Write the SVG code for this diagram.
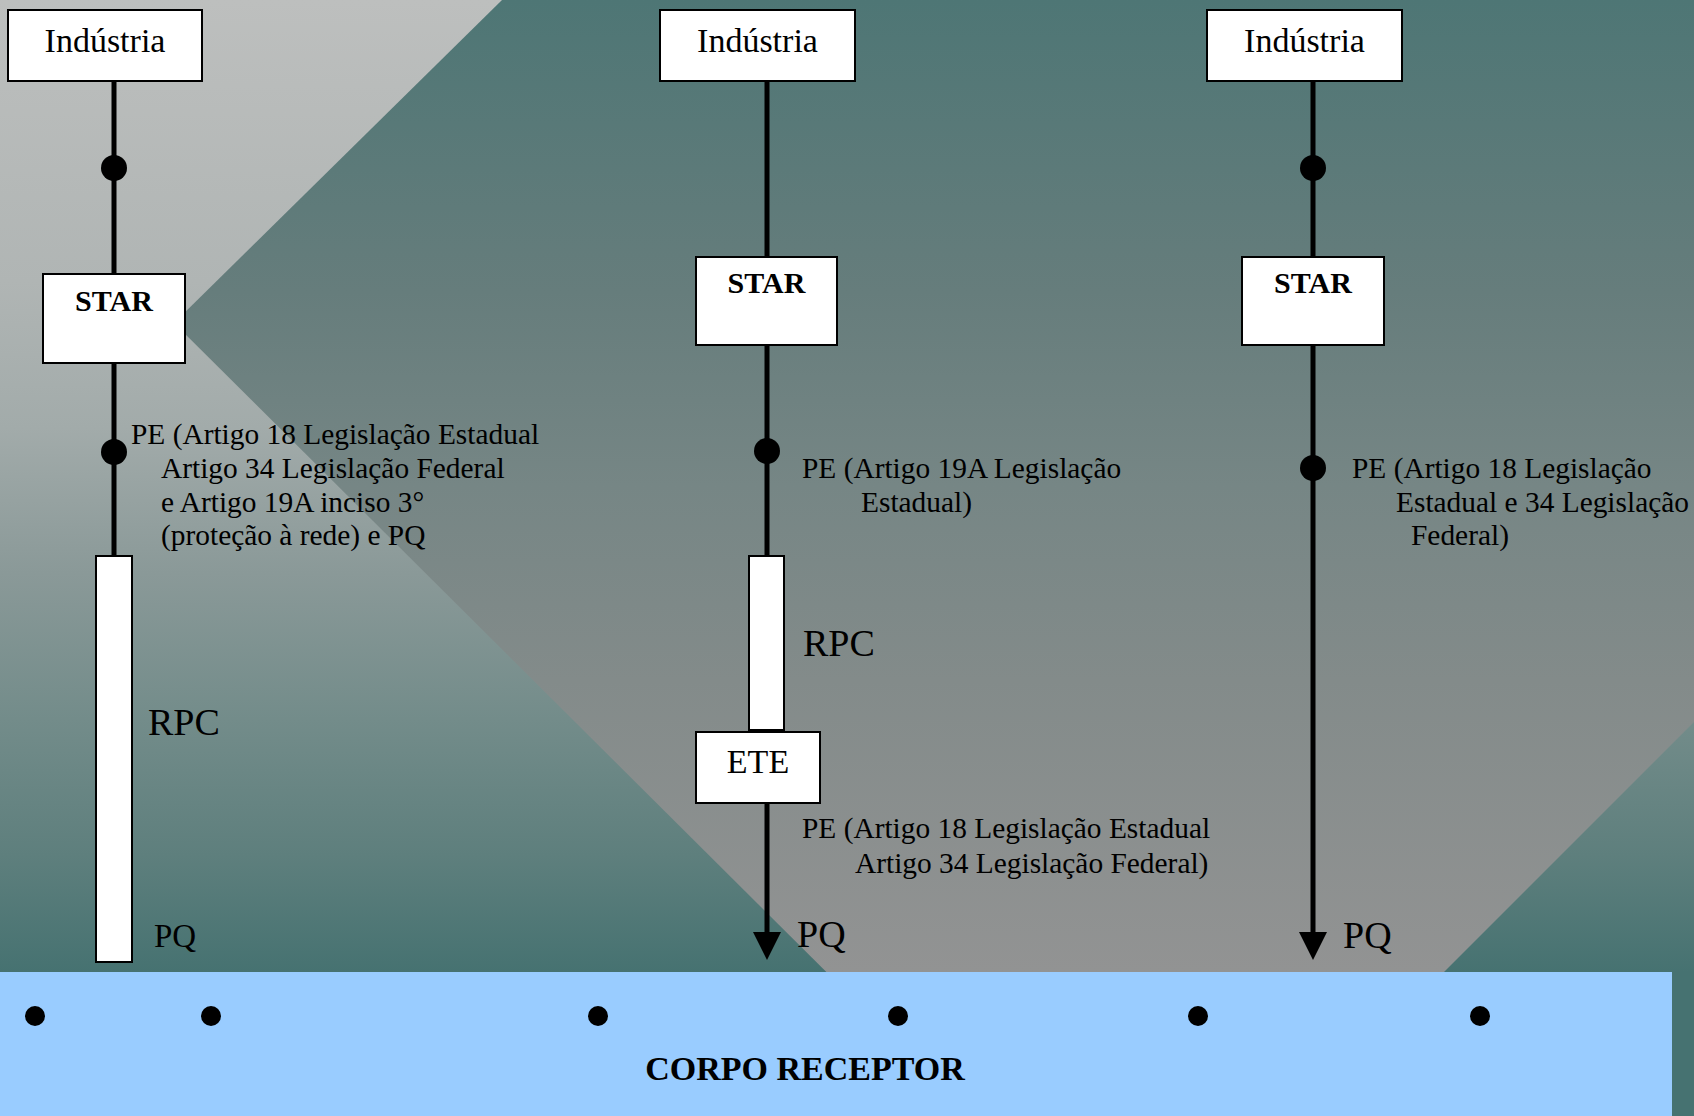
<svg xmlns="http://www.w3.org/2000/svg" width="1694" height="1116" viewBox="0 0 1694 1116">
  <defs>
    <linearGradient id="bgOuter" gradientUnits="userSpaceOnUse" x1="0" y1="0" x2="0" y2="972">
      <stop offset="0" stop-color="#bdbfbe"/>
      <stop offset="0.29" stop-color="#b0b5b4"/>
      <stop offset="0.44" stop-color="#a2abaa"/>
      <stop offset="0.59" stop-color="#8a9998"/>
      <stop offset="0.74" stop-color="#738c8a"/>
      <stop offset="0.88" stop-color="#5e7f7d"/>
      <stop offset="1" stop-color="#467271"/>
    </linearGradient>
    <linearGradient id="bgDiamond" gradientUnits="userSpaceOnUse" x1="0" y1="0" x2="0" y2="972">
      <stop offset="0" stop-color="#4e7675"/>
      <stop offset="0.3" stop-color="#667d7c"/>
      <stop offset="0.5" stop-color="#768685"/>
      <stop offset="0.7" stop-color="#838b8a"/>
      <stop offset="1" stop-color="#929393"/>
    </linearGradient>
    <marker id="arrow" markerUnits="userSpaceOnUse" viewBox="0 0 28 28" markerWidth="28" markerHeight="28" refX="8" refY="14" orient="auto">
      <path d="M0,0 L28,14 L0,28 z" fill="#000"/>
    </marker>
  </defs>
  <style>
    .box { fill: #ffffff; stroke: #000000; stroke-width: 2; }
    .txt { font-family: "Liberation Serif", "Times New Roman", serif; fill: #000; }
    .big { font-size: 34px; }
    .bold { font-size: 30px; font-weight: bold; }
    .lbl { font-size: 29.4px; }
    .rpc { font-size: 38px; }
    .pq { font-size: 38px; }
    .line { stroke: #000; stroke-width: 5; fill: none; }
    .dot { fill: #000; }
  </style>

  <!-- background -->
  <rect x="0" y="0" width="1694" height="1116" fill="url(#bgOuter)"/>
  <polygon points="174,323 502,0 1694,0 1694,722 1136,1280" fill="url(#bgDiamond)"/>

  <!-- corpo receptor -->
  <g id="corpo-receptor">
    <rect x="0" y="972" width="1672" height="144" fill="#99ccff"/>
    <circle class="dot" cx="35" cy="1016" r="10"/>
    <circle class="dot" cx="211" cy="1016" r="10"/>
    <circle class="dot" cx="598" cy="1016" r="10"/>
    <circle class="dot" cx="898" cy="1016" r="10"/>
    <circle class="dot" cx="1198" cy="1016" r="10"/>
    <circle class="dot" cx="1480" cy="1016" r="10"/>
    <text class="txt big" x="805" y="1080" text-anchor="middle" font-weight="bold">CORPO RECEPTOR</text>
  </g>

  <!-- connectors -->
  <g id="connectors">
    <line class="line" x1="114" y1="81" x2="114" y2="274"/>
    <line class="line" x1="114" y1="363" x2="114" y2="556"/>
    <circle class="dot" cx="114" cy="168" r="13"/>
    <circle class="dot" cx="114" cy="452" r="13"/>

    <line class="line" x1="767" y1="81" x2="767" y2="257"/>
    <line class="line" x1="767" y1="345" x2="767" y2="556"/>
    <line class="line" x1="767" y1="803" x2="767" y2="940" marker-end="url(#arrow)"/>
    <circle class="dot" cx="767" cy="451" r="13"/>

    <line class="line" x1="1313" y1="81" x2="1313" y2="257"/>
    <line class="line" x1="1313" y1="345" x2="1313" y2="940" marker-end="url(#arrow)"/>
    <circle class="dot" cx="1313" cy="168" r="13"/>
    <circle class="dot" cx="1313" cy="468" r="13"/>
  </g>

  <!-- column 1 -->
  <g id="industria-1">
    <rect class="box" x="8" y="10" width="194" height="71"/>
    <text class="txt big" x="105" y="52" text-anchor="middle">Indústria</text>
  </g>
  <g id="star-1">
    <rect class="box" x="43" y="274" width="142" height="89"/>
    <text class="txt bold" x="114" y="311" text-anchor="middle">STAR</text>
  </g>
  <g id="rpc-1">
    <rect class="box" x="96" y="556" width="36" height="406" stroke-width="1.5"/>
    <text class="txt rpc" x="148" y="735">RPC</text>
  </g>
  <g id="label-pe-1">
    <text class="txt lbl" x="131" y="444">PE (Artigo 18 Legislação Estadual</text>
    <text class="txt lbl" x="161" y="478">Artigo 34 Legislação Federal</text>
    <text class="txt lbl" x="161" y="512">e Artigo 19A inciso 3°</text>
    <text class="txt lbl" x="161" y="545">(proteção à rede) e PQ</text>
  </g>
  <g id="pq-1">
    <text class="txt" font-size="33" x="154" y="947">PQ</text>
  </g>

  <!-- column 2 -->
  <g id="industria-2">
    <rect class="box" x="660" y="10" width="195" height="71"/>
    <text class="txt big" x="757.5" y="52" text-anchor="middle">Indústria</text>
  </g>
  <g id="star-2">
    <rect class="box" x="696" y="257" width="141" height="88"/>
    <text class="txt bold" x="766.5" y="293" text-anchor="middle">STAR</text>
  </g>
  <g id="label-pe-2a">
    <text class="txt lbl" x="802" y="478">PE (Artigo 19A Legislação</text>
    <text class="txt lbl" x="861" y="512">Estadual)</text>
  </g>
  <g id="rpc-2">
    <rect class="box" x="749" y="556" width="35" height="174" stroke-width="1.5"/>
    <text class="txt rpc" x="803" y="656">RPC</text>
  </g>
  <g id="ete">
    <rect class="box" x="696" y="732" width="124" height="71"/>
    <text class="txt big" x="758" y="773" text-anchor="middle">ETE</text>
  </g>
  <g id="label-pe-2b">
    <text class="txt lbl" x="802" y="838">PE (Artigo 18 Legislação Estadual</text>
    <text class="txt lbl" x="855" y="873">Artigo 34 Legislação Federal)</text>
  </g>
  <g id="pq-2">
    <text class="txt pq" x="797" y="947">PQ</text>
  </g>

  <!-- column 3 -->
  <g id="industria-3">
    <rect class="box" x="1207" y="10" width="195" height="71"/>
    <text class="txt big" x="1304.5" y="52" text-anchor="middle">Indústria</text>
  </g>
  <g id="star-3">
    <rect class="box" x="1242" y="257" width="142" height="88"/>
    <text class="txt bold" x="1313" y="293" text-anchor="middle">STAR</text>
  </g>
  <g id="label-pe-3">
    <text class="txt lbl" x="1352" y="478">PE (Artigo 18 Legislação</text>
    <text class="txt lbl" x="1396" y="512">Estadual e 34 Legislação</text>
    <text class="txt lbl" x="1411" y="545">Federal)</text>
  </g>
  <g id="pq-3">
    <text class="txt pq" x="1343" y="948">PQ</text>
  </g>
</svg>
